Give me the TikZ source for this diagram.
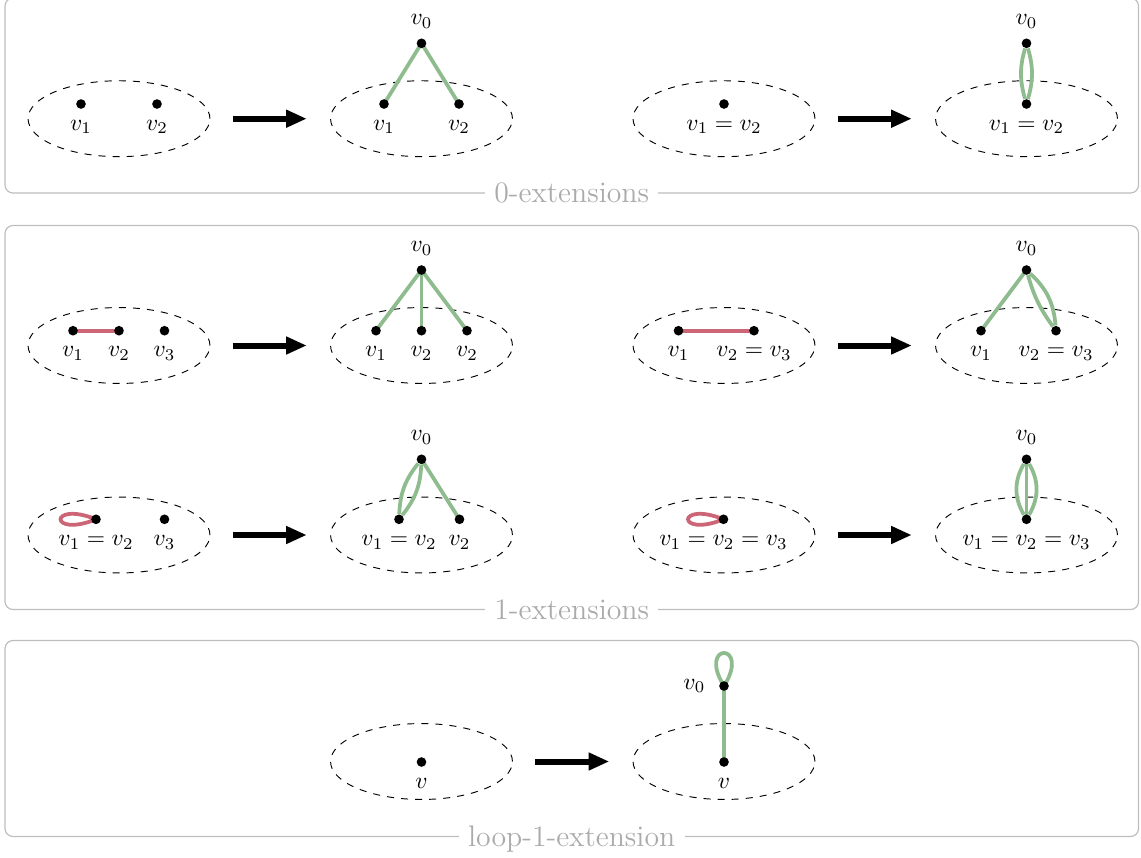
\documentclass[tikz,border=0pt]{standalone}
\usetikzlibrary{arrows.meta,shapes.geometric}
\definecolor{edgegreen}{HTML}{8FBC8F}
\definecolor{edgered}{HTML}{CC6677}
\definecolor{framegray}{HTML}{BDBDBD}
\definecolor{titlegray}{HTML}{ABABAB}
\pgfdeclarelayer{ell}
\pgfdeclarelayer{edg}
\pgfsetlayers{ell,edg,main}
\begin{document}
\begin{tikzpicture}[x=0.4255pt,y=0.4255pt,
  dot/.style={circle,fill=black,inner sep=0pt,minimum size=4.1pt},
  blob/.style={draw,dashed,ellipse,minimum width=77.4pt,minimum height=32.3pt,inner sep=0pt,line width=0.4pt},
  gedge/.style={draw=edgegreen,line width=1.6pt},
  redge/.style={draw=edgered,line width=1.6pt},
  bigarrow/.style={line width=2.55pt,-{Triangle[length=8.8pt,width=7.1pt]},shorten <=9.5pt,shorten >=9.9pt},
  frame/.style={draw=framegray,rounded corners=3.4pt,line width=0.5pt},
  ftitle/.style={fill=white,text=titlegray,font=\fontsize{12.65}{15}\selectfont,inner xsep=4pt,inner ysep=1pt,anchor=base,yshift=-4.1pt},
  every label/.style={inner sep=0pt},
  label distance=4.4pt,
  vzero/.style={label={[label distance=3.9pt]above:$v_0$}}
]
\useasboundingbox (0,0) rectangle (1141,-857);

\begin{pgfonlayer}{ell}
  % frames
  \draw[frame] (5,2) rectangle (1138.5,-193);
  \draw[frame] (5,-225.5) rectangle (1138.5,-609.5);
  \draw[frame] (5,-640.5) rectangle (1138.5,-836.5);
  % ellipses
  \node[blob] (e11) at (119,-118.7) {};
  \node[blob] (e12) at (421.5,-118.7) {};
  \node[blob] (e13) at (724,-118.7) {};
  \node[blob] (e14) at (1026.5,-118.7) {};
  \node[blob] (e21) at (119,-345.5) {};
  \node[blob] (e22) at (421.5,-345.5) {};
  \node[blob] (e23) at (724,-345.5) {};
  \node[blob] (e24) at (1026.5,-345.5) {};
  \node[blob] (e31) at (119,-535) {};
  \node[blob] (e32) at (421.5,-535) {};
  \node[blob] (e33) at (724,-535) {};
  \node[blob] (e34) at (1026.5,-535) {};
  \node[blob] (e41) at (421.5,-761.5) {};
  \node[blob] (e42) at (724,-761.5) {};
\end{pgfonlayer}

% titles
\node[ftitle] (t1) at (571.7,-193) {0-extensions};
\node[ftitle] (t2) at (571.7,-609.5) {1-extensions};
\node[ftitle] (t3) at (571.7,-836.5) {loop-1-extension};

% row 1
\node[dot,label={below:$v_1$}] (a1) at (81,-104) {};
\node[dot,label={below:$v_2$}] (a2) at (157,-104) {};
\node[dot,vzero] (b0) at (421.5,-43.3) {};
\node[dot,label={below:$v_1$}] (b1) at (384,-104) {};
\node[dot,label={below:$v_2$}] (b2) at (459,-104) {};
\node[dot,label={below:$v_1=v_2$}] (c1) at (724,-104) {};
\node[dot,vzero] (d0) at (1026.5,-43.3) {};
\node[dot,label={below:$v_1=v_2$}] (d1) at (1026.5,-104) {};

% row 2
\node[dot,label={below:$v_1$}] (f1) at (73,-330.7) {};
\node[dot,label={below:$v_2$}] (f2) at (119,-330.7) {};
\node[dot,label={below:$v_3$}] (f3) at (164.5,-330.7) {};
\node[dot,vzero] (g0) at (421.5,-270) {};
\node[dot,label={below:$v_1$}] (g1) at (376,-330.7) {};
\node[dot,label={below:$v_2$}] (g2) at (421.5,-330.7) {};
\node[dot,label={below:$v_2$}] (g3) at (467,-330.7) {};
\node[dot,label={below:$v_1$}] (h1) at (678.5,-330.7) {};
\node[dot,label={below:$v_2=v_3$}] (h2) at (754,-330.7) {};
\node[dot,vzero] (i0) at (1026.5,-270) {};
\node[dot,label={below:$v_1$}] (i1) at (981,-330.7) {};
\node[dot,label={below:$v_2=v_3$}] (i2) at (1056,-330.7) {};

% row 3
\node[dot,label={below:$v_1=v_2$}] (j1) at (96,-519.3) {};
\node[dot,label={below:$v_3$}] (j2) at (164.5,-519.3) {};
\node[dot,vzero] (k0) at (421.5,-459.3) {};
\node[dot,label={below:$v_1=v_2$}] (k1) at (399,-519.3) {};
\node[dot,label={below:$v_2$}] (k2) at (459.5,-519.3) {};
\node[dot,label={below:$v_1=v_2=v_3$}] (l1) at (723.5,-519.3) {};
\node[dot,vzero] (m0) at (1026.5,-459.3) {};
\node[dot,label={below:$v_1=v_2=v_3$}] (m1) at (1026.5,-519.3) {};

% row 4
\node[dot,label={below:$v$}] (n1) at (421.5,-762) {};
\node[dot,label={[label distance=5.5pt]left:$v_0$}] (p0) at (724,-686) {};
\node[dot,label={below:$v$}] (p1) at (724,-762) {};

\begin{pgfonlayer}{edg}
  % row 1
  \draw[gedge] (b0.center) -- (b1.center);
  \draw[gedge] (b0.center) -- (b2.center);
  \draw[gedge] (d0) to[bend left=16] (d1);
  \draw[gedge] (d0) to[bend right=16] (d1);
  % row 2
  \draw[redge] (f1.center) -- (f2.center);
  \draw[gedge] (g0.center) -- (g1.center);
  \draw[gedge] (g0.center) -- (g2.center);
  \draw[gedge] (g0.center) -- (g3.center);
  \draw[redge] (h1.center) -- (h2.center);
  \draw[gedge] (i0.center) -- (i1.center);
  \draw[gedge] (i0) to[bend left=21] (i2);
  \draw[gedge] (i0) to[bend right=10] (i2);
  % row 3
  \draw[redge] (j1.center) .. controls +(158:51) and +(202:51) .. (j1.center);
  \draw[gedge] (k0) to[bend left=18] (k1);
  \draw[gedge] (k0) to[bend right=18] (k1);
  \draw[gedge] (k0.center) -- (k2.center);
  \draw[redge] (l1.center) .. controls +(158:51) and +(202:51) .. (l1.center);
  \draw[gedge] (m0.center) -- (m1.center);
  \draw[gedge] (m0) to[bend left=30] (m1);
  \draw[gedge] (m0) to[bend right=30] (m1);
  % row 4
  \draw[gedge] (p0.center) -- (p1.center);
  \draw[gedge] (p0.center) .. controls +(58:52) and +(122:52) .. (p0.center);
\end{pgfonlayer}

% arrows
\draw[bigarrow] (e11) -- (e12);
\draw[bigarrow] (e13) -- (e14);
\draw[bigarrow] (e21) -- (e22);
\draw[bigarrow] (e23) -- (e24);
\draw[bigarrow] (e31) -- (e32);
\draw[bigarrow] (e33) -- (e34);
\draw[bigarrow] (e41) -- (e42);
\end{tikzpicture}
\end{document}
